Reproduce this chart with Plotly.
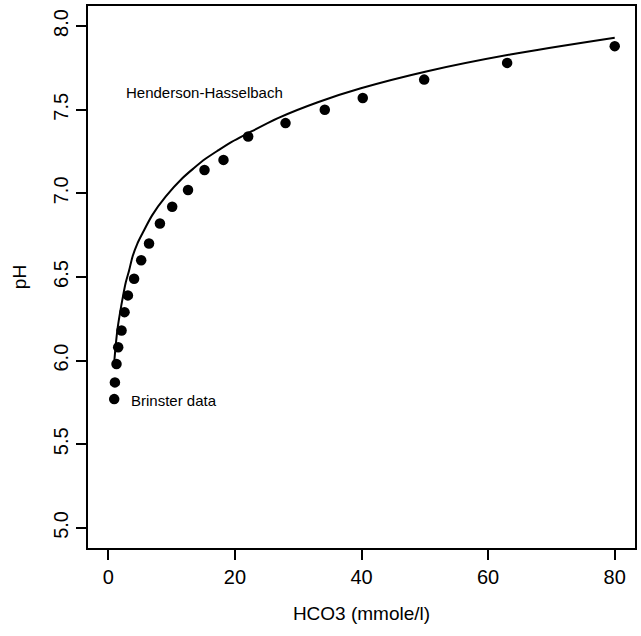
import plotly.graph_objects as go

# Brinster data
hco3_data = [0.94, 1.05, 1.3, 1.57, 2.1, 2.57, 3.1, 4.08, 5.2, 6.44, 8.16, 10.1,
             12.6, 15.2, 18.2, 22.1, 28.0, 34.2, 40.2, 49.9, 63.0, 80.0]
ph_data = [5.77, 5.87, 5.98, 6.08, 6.18, 6.29, 6.39, 6.49, 6.60, 6.70, 6.82, 6.92,
           7.02, 7.14, 7.20, 7.34, 7.42, 7.50, 7.57, 7.68, 7.78, 7.88]

# Henderson-Hasselbach curve
hco3_curve = [0.94, 1.2, 1.5, 1.83, 2.3, 2.78, 3.3, 3.82, 4.6, 5.39, 6.95, 9.06, 11.7,
              13.5, 15.3, 17.4, 19.5, 21.9, 26.8, 33.1, 39.9, 50.4, 63.5, 80.0]
ph_curve = [5.99, 6.10, 6.20, 6.28, 6.38, 6.47, 6.54, 6.62, 6.70, 6.76, 6.87, 6.98, 7.09,
            7.15, 7.205, 7.258, 7.308, 7.356, 7.45, 7.545, 7.628, 7.73, 7.83, 7.93]

x_ticks = [0, 20, 40, 60, 80]
y_ticks = [5.0, 5.5, 6.0, 6.5, 7.0, 7.5, 8.0]
y_labels = ["5.0", "5.5", "6.0", "6.5", "7.0", "7.5", "8.0"]

FONT = "Liberation Sans, Arial, Helvetica, sans-serif"

fig = go.Figure()
fig.add_trace(go.Scatter(x=hco3_curve, y=ph_curve, mode="lines",
                         line=dict(color="black", width=2, shape="spline", smoothing=0.8),
                         showlegend=False, hoverinfo="skip"))
fig.add_trace(go.Scatter(x=hco3_data, y=ph_data, mode="markers",
                         marker=dict(color="black", size=10.5),
                         showlegend=False))

fig.add_annotation(x=2.5, y=7.60, xref="x", yref="y", text="Henderson-Hasselbach",
                   showarrow=False, xanchor="left", yanchor="middle",
                   font=dict(family=FONT, size=15, color="black"))
fig.add_annotation(x=3.3, y=5.76, xref="x", yref="y", text="Brinster data",
                   showarrow=False, xanchor="left", yanchor="middle",
                   font=dict(family=FONT, size=15, color="black"))

fig.update_layout(
    width=641, height=636,
    margin=dict(l=88, r=4, t=6, b=88),
    paper_bgcolor="white", plot_bgcolor="white",
    font=dict(family=FONT, color="black", size=19),
    xaxis=dict(range=[-3.2, 83.2], tickvals=x_ticks, ticks="outside", ticklen=10,
               tickwidth=2, tickcolor="black", showline=True, linecolor="black",
               linewidth=2, mirror=True, showgrid=False, zeroline=False,
               title=dict(text="HCO3 (mmole/l)", font=dict(size=19), standoff=20),
               tickfont=dict(size=20)),
    yaxis=dict(range=[4.88, 8.12], tickvals=y_ticks, ticktext=y_labels, ticks="outside",
               ticklen=10, tickwidth=2, tickcolor="black", showline=True,
               linecolor="black", linewidth=2, mirror=True, showgrid=False,
               zeroline=False, tickangle=-90,
               title=dict(text="pH", font=dict(size=19), standoff=18),
               tickfont=dict(size=20)),
)

fig.write_html("out.html")
